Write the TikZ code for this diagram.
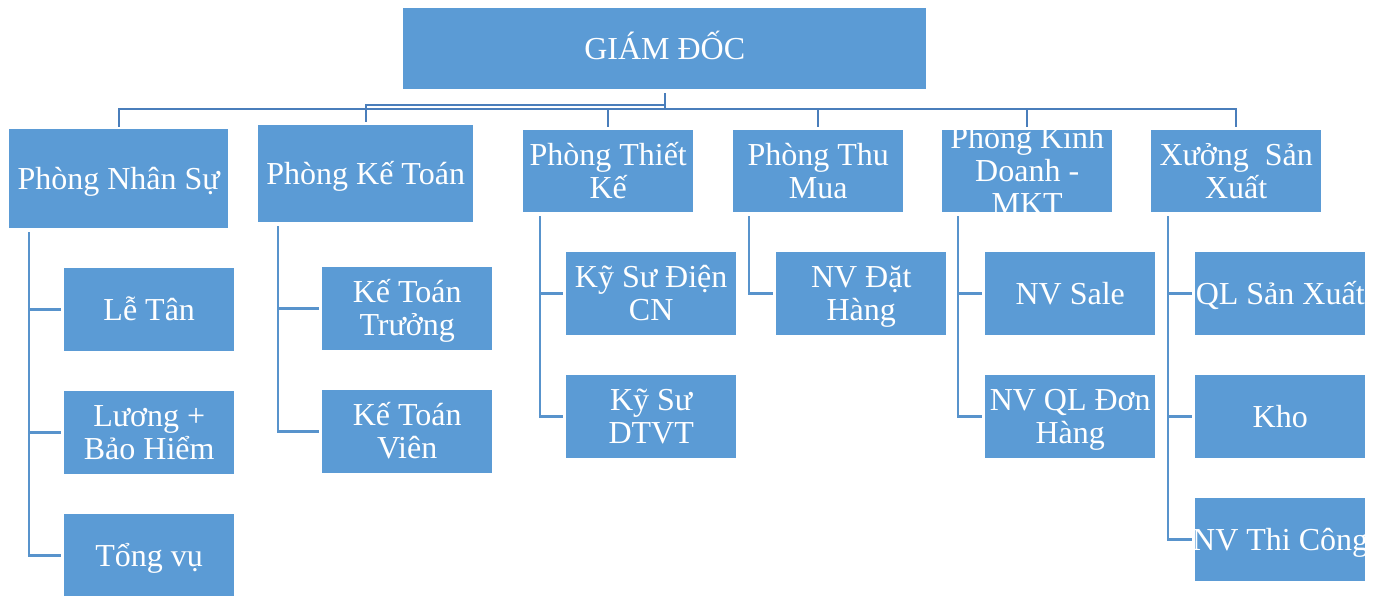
\documentclass[tikz,border=0pt]{standalone}
\usepackage{fontspec}
\setmainfont{Liberation Serif}
\definecolor{boxblue}{HTML}{5B9BD5}
\definecolor{topln}{HTML}{4A7EBB}
\definecolor{childln}{HTML}{5893CC}
\newcommand\ml[1]{\begin{tabular}[t]{@{}c@{}}#1\end{tabular}}
\begin{document}
\begin{tikzpicture}[x=1pt,y=-1pt,
  bx/.style={fill=boxblue, draw=none, anchor=north west, inner sep=0pt, minimum width=170pt, minimum height=83pt},
  txt/.style={text=white, inner sep=0pt, anchor=base, font=\fontsize{32}{33}\selectfont},
  topline/.style={draw=topln, line width=2pt},
  childline/.style={draw=childln, line width=2.5pt}]
\useasboundingbox (0,0) rectangle (1381,596);

% boxes
\node[bx, minimum width=523pt, minimum height=81pt] (gd) at (403,8) {};
\node[bx, minimum width=219pt, minimum height=99pt] (ns) at (9,129) {};
\node[bx, minimum width=215pt, minimum height=97pt] (kt) at (258,125) {};
\node[bx, minimum height=82pt] (tk) at (523,130) {};
\node[bx, minimum height=82pt] (tm) at (733,130) {};
\node[bx, minimum height=82pt] (kd) at (942,130) {};
\node[bx, minimum height=82pt] (xs) at (1151,130) {};

\node[bx] (lt) at (64,268) {};
\node[bx] (lb) at (64,391) {};
\node[bx] (tv) at (64,514) {};
\node[bx] (ktt) at (322,267) {};
\node[bx] (ktv) at (322,390) {};
\node[bx] (kse) at (566,252) {};
\node[bx] (ksd) at (566,375) {};
\node[bx] (nvd) at (776,252) {};
\node[bx] (nvs) at (985,252) {};
\node[bx] (nvq) at (985,375) {};
\node[bx] (qls) at (1195,252) {};
\node[bx] (kho) at (1195,375) {};
\node[bx] (nvt) at (1195,498) {};

% texts
\node[txt] (gdt) at ([yshift=-10.5pt]gd.center) {GIÁM ĐỐC};
\node[txt] (nst) at ([yshift=-10.5pt]ns.center) {Phòng Nhân Sự};
\node[txt] (ktt0) at ([yshift=-10.5pt]kt.center) {Phòng Kế Toán};
\node[txt] (tkt) at ([yshift=6pt]tk.center) {\ml{Phòng Thiết\\Kế}};
\node[txt] (tmt) at ([yshift=6pt]tm.center) {\ml{Phòng Thu\\Mua}};
\node[txt] (kdt) at ([yshift=22.5pt]kd.center) {\ml{Phòng Kinh\\Doanh -\\MKT}};
\node[txt] (xst) at ([yshift=6pt]xs.center) {\ml{Xưởng\ \ Sản\\Xuất}};

\node[txt] (ltt) at ([yshift=-10.5pt]lt.center) {Lễ Tân};
\node[txt] (lbt) at ([yshift=6pt]lb.center) {\ml{Lương +\\Bảo Hiểm}};
\node[txt] (tvt) at ([yshift=-10.5pt]tv.center) {Tổng vụ};
\node[txt] (kttt) at ([yshift=6pt]ktt.center) {\ml{Kế Toán\\Trưởng}};
\node[txt] (ktvt) at ([yshift=6pt]ktv.center) {\ml{Kế Toán\\Viên}};
\node[txt] (kset) at ([yshift=6pt]kse.center) {\ml{Kỹ Sư Điện\\CN}};
\node[txt] (ksdt) at ([yshift=6pt]ksd.center) {\ml{Kỹ Sư\\DTVT}};
\node[txt] (nvdt) at ([yshift=6pt]nvd.center) {\ml{NV Đặt\\Hàng}};
\node[txt] (nvst) at ([yshift=-10.5pt]nvs.center) {NV Sale};
\node[txt] (nvqt) at ([yshift=6pt]nvq.center) {\ml{NV QL Đơn\\Hàng}};
\node[txt] (qlst) at ([yshift=-10.5pt]qls.center) {QL Sản Xuất};
\node[txt] (khot) at ([yshift=-10.5pt]kho.center) {Kho};
\node[txt] (nvtt) at ([yshift=-10.5pt]nvt.center) {NV Thi Công};

% top-level connectors
\draw[topline] ([yshift=-4pt]gd.south) -- ([yshift=-20pt]gd.south);
\draw[topline] ([yshift=3pt]kt.north) |- ([yshift=-16pt]gd.south);
\draw[topline] ([yshift=2pt]ns.north) |- ([yshift=-20pt]gd.south);
\draw[topline] ([yshift=3pt]tk.north) |- ([yshift=-20pt]gd.south);
\draw[topline] ([yshift=3pt]tm.north) |- ([yshift=-20pt]gd.south);
\draw[topline] ([yshift=3pt]kd.north) |- ([yshift=-20pt]gd.south);
\draw[topline] ([yshift=3pt]xs.north) |- ([yshift=-20pt]gd.south);

% child connectors
\foreach \c in {lt,lb,tv}
  \draw[childline] ([xshift=20pt,yshift=-4pt]ns.south west) |- ([xshift=-3pt]\c.west);
\foreach \c in {ktt,ktv}
  \draw[childline] ([xshift=20pt,yshift=-4pt]kt.south west) |- ([xshift=-3pt]\c.west);
\foreach \c in {kse,ksd}
  \draw[childline] ([xshift=17pt,yshift=-4pt]tk.south west) |- ([xshift=-3pt]\c.west);
\foreach \c in {nvd}
  \draw[childline] ([xshift=16pt,yshift=-4pt]tm.south west) |- ([xshift=-3pt]\c.west);
\foreach \c in {nvs,nvq}
  \draw[childline] ([xshift=16pt,yshift=-4pt]kd.south west) |- ([xshift=-3pt]\c.west);
\foreach \c in {qls,kho,nvt}
  \draw[childline] ([xshift=17pt,yshift=-4pt]xs.south west) |- ([xshift=-3pt]\c.west);
\end{tikzpicture}
\end{document}
